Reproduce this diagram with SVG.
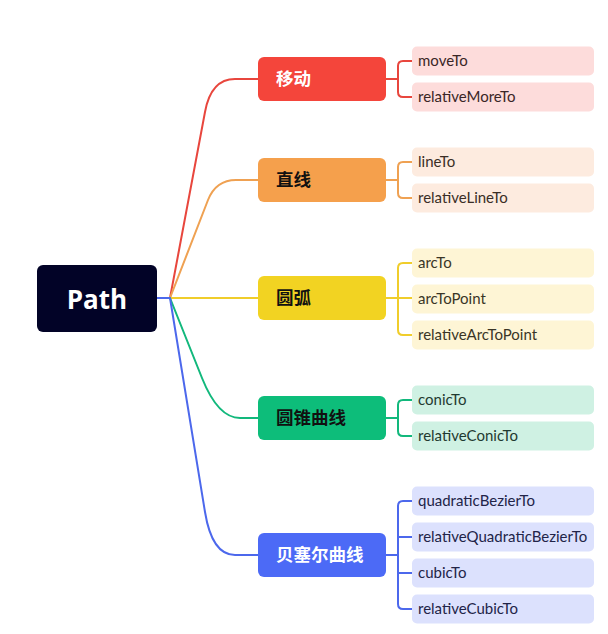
<svg xmlns="http://www.w3.org/2000/svg" width="608" height="634" viewBox="0 0 608 634">
<style>
.c{fill:none;stroke-width:2;stroke-linecap:round;stroke-linejoin:round}
.br{font-family:"Noto Sans CJK SC","Noto Sans",sans-serif;font-weight:bold;font-size:17.5px}
.lf{font-family:"Lato","Open Sans",sans-serif;font-size:15px}
.red{stroke:#E8463D}.org{stroke:#EFA152}.yel{stroke:#F0CD2B}.grn{stroke:#12B87C}.blu{stroke:#4C68EC}
</style>
<rect width="608" height="634" fill="#ffffff"/>
<g id="connectors">
<path class="c blu" d="M157 298 H170"/>
<path class="c red" d="M170 298 L205 112 Q211 79 235 79 H258"/>
<path class="c org" d="M170 298 L208 200 Q216 180 236 180 H258"/>
<path class="c yel" d="M170 298 H258"/>
<path class="c grn" d="M170 298 L202 378 Q218 418 240 418 H258"/>
<path class="c blu" d="M170 298 L205 512 Q212 555 235 555 H258"/>
<path class="c red" d="M386 79 H398 V66 Q398 61 403 61 H412 M398 79 V92 Q398 97 403 97 H412"/>
<path class="c org" d="M386 180 H398 V167 Q398 162 403 162 H412 M398 180 V193 Q398 198 403 198 H412"/>
<path class="c yel" d="M386 298 H412 M398 298 V268 Q398 263 403 263 H412 M398 298 V330 Q398 335 403 335 H412"/>
<path class="c grn" d="M386 418 H398 V405 Q398 400 403 400 H412 M398 418 V431 Q398 436 403 436 H412"/>
<path class="c blu" d="M386 555 H398 V506 Q398 501 403 501 H412 M398 537 H412 M398 555 V604 Q398 609 403 609 H412 M398 573 H412"/>
</g>
<g id="root">
<rect x="37" y="265" width="120" height="67" rx="6" fill="#020327"/>
<text x="97" y="309" text-anchor="middle" font-family="'Open Sans','Noto Sans',sans-serif" font-weight="bold" font-size="26" fill="#ffffff">Path</text>
</g>
<g id="b-move">
<rect x="258" y="57" width="128" height="44" rx="6" fill="#F4453B"/>
<text class="br" x="276" y="85" fill="#ffffff">移动</text>
</g>
<g id="b-line">
<rect x="258" y="158" width="128" height="44" rx="6" fill="#F5A04C"/>
<text class="br" x="276" y="186" fill="#111111">直线</text>
</g>
<g id="b-arc">
<rect x="258" y="276" width="128" height="44" rx="6" fill="#F2D322"/>
<text class="br" x="276" y="304" fill="#111111">圆弧</text>
</g>
<g id="b-conic">
<rect x="258" y="396" width="128" height="44" rx="6" fill="#0DBD7A"/>
<text class="br" x="276" y="424" fill="#111111">圆锥曲线</text>
</g>
<g id="b-bezier">
<rect x="258" y="533" width="128" height="44" rx="6" fill="#4C6AF6"/>
<text class="br" x="276" y="561" fill="#ffffff">贝塞尔曲线</text>
</g>
<g id="l-moveTo"><rect x="412" y="46.5" width="182" height="29" rx="5" fill="#FDDCDB"/><text class="lf" x="418" y="66" fill="#3a2626">moveTo</text></g>
<g id="l-relativeMoreTo"><rect x="412" y="82.5" width="182" height="29" rx="5" fill="#FDDCDB"/><text class="lf" x="418" y="102" fill="#3a2626">relativeMoreTo</text></g>
<g id="l-lineTo"><rect x="412" y="147.5" width="182" height="29" rx="5" fill="#FDEBDF"/><text class="lf" x="418" y="167" fill="#3a2e26">lineTo</text></g>
<g id="l-relativeLineTo"><rect x="412" y="183.5" width="182" height="29" rx="5" fill="#FDEBDF"/><text class="lf" x="418" y="203" fill="#3a2e26">relativeLineTo</text></g>
<g id="l-arcTo"><rect x="412" y="248.5" width="182" height="29" rx="5" fill="#FEF5D5"/><text class="lf" x="418" y="268" fill="#3a3526">arcTo</text></g>
<g id="l-arcToPoint"><rect x="412" y="284.5" width="182" height="29" rx="5" fill="#FEF5D5"/><text class="lf" x="418" y="304" fill="#3a3526">arcToPoint</text></g>
<g id="l-relativeArcToPoint"><rect x="412" y="320.5" width="182" height="29" rx="5" fill="#FEF5D5"/><text class="lf" x="418" y="340" fill="#3a3526">relativeArcToPoint</text></g>
<g id="l-conicTo"><rect x="412" y="385.5" width="182" height="29" rx="5" fill="#CFF1E3"/><text class="lf" x="418" y="405" fill="#1f3a30">conicTo</text></g>
<g id="l-relativeConicTo"><rect x="412" y="421.5" width="182" height="29" rx="5" fill="#CFF1E3"/><text class="lf" x="418" y="441" fill="#1f3a30">relativeConicTo</text></g>
<g id="l-quadraticBezierTo"><rect x="412" y="486.5" width="182" height="29" rx="5" fill="#DCE1FD"/><text class="lf" x="418" y="506" fill="#222448">quadraticBezierTo</text></g>
<g id="l-relativeQuadraticBezierTo"><rect x="412" y="522.5" width="182" height="29" rx="5" fill="#DCE1FD"/><text class="lf" x="418" y="542" fill="#222448">relativeQuadraticBezierTo</text></g>
<g id="l-cubicTo"><rect x="412" y="558.5" width="182" height="29" rx="5" fill="#DCE1FD"/><text class="lf" x="418" y="578" fill="#222448">cubicTo</text></g>
<g id="l-relativeCubicTo"><rect x="412" y="594.5" width="182" height="29" rx="5" fill="#DCE1FD"/><text class="lf" x="418" y="614" fill="#222448">relativeCubicTo</text></g>
</svg>
